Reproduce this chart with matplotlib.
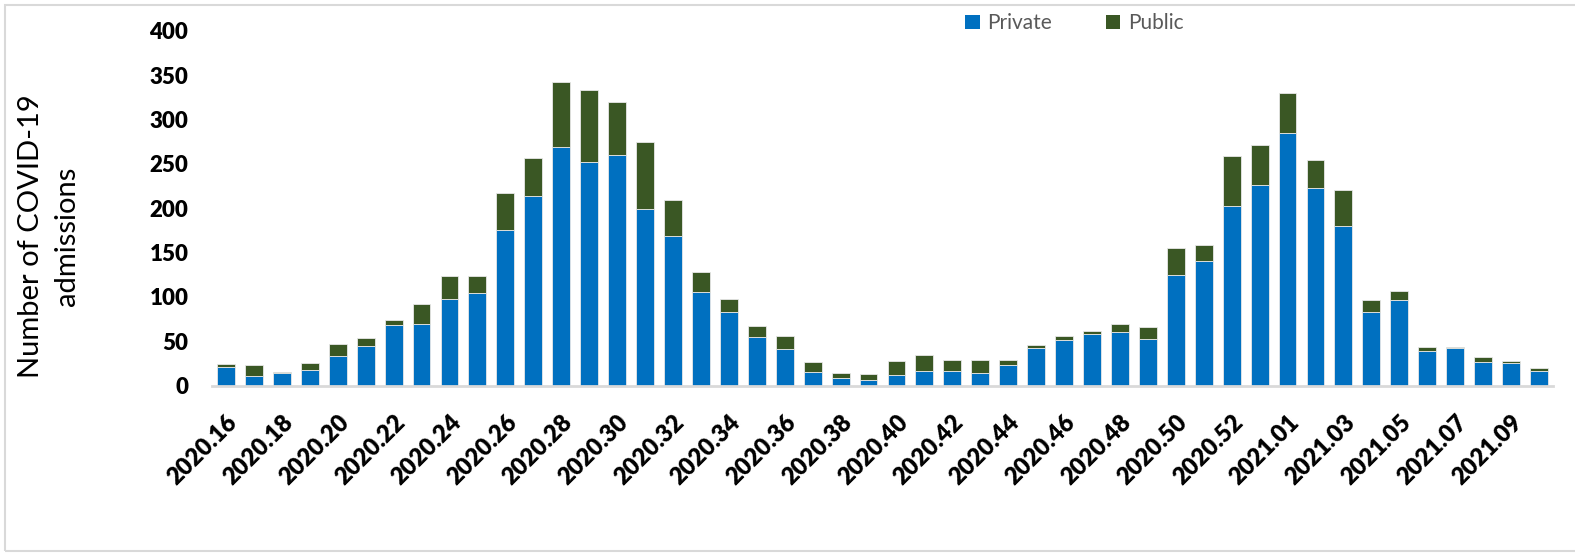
import numpy as np
import matplotlib
matplotlib.use("Agg")
import matplotlib.pyplot as plt
from matplotlib.patches import Patch, Rectangle

# Weekly COVID-19 admissions, ISO week labels
weeks = [f"2020.{w:02d}" for w in range(16, 54)] + [f"2021.{w:02d}" for w in range(1, 11)]
private = [21, 11, 14, 18, 34, 45, 68, 70, 98, 104, 176, 214, 269, 252, 260, 199,
           169, 106, 83, 55, 41, 16, 9, 6, 12, 17, 17, 14, 23, 43, 51, 58,
           61, 53, 125, 140, 203, 226, 285, 223, 180, 83, 97, 39, 42, 27, 26, 17]
public = [4, 12, 2, 8, 13, 9, 6, 22, 26, 20, 41, 43, 73, 81, 60, 76,
          40, 22, 15, 12, 15, 11, 5, 7, 16, 18, 12, 15, 6, 3, 5, 4,
          9, 13, 30, 18, 56, 45, 45, 31, 40, 14, 10, 5, 2, 5, 2, 3]
yticks = [0, 50, 100, 150, 200, 250, 300, 350, 400]

blue = "#0070C0"
green = "#3A5724"
font = "Lato"

fig = plt.figure(figsize=(15.75, 5.53), dpi=100)
ax = fig.add_axes([0.1346, 0.3025, 0.8514, 0.642])

x = np.arange(len(weeks))
ax.bar(x, private, width=0.64, color=blue, edgecolor="#e8e8e8", linewidth=0.6)
ax.bar(x, public, width=0.64, bottom=private, color=green, edgecolor="#e8e8e8", linewidth=0.6)

ax.set_xlim(-0.5, len(weeks) - 0.5)
ax.set_ylim(0, 400)
ax.set_yticks(yticks)
ax.set_yticklabels([str(v) for v in yticks], fontsize=16, fontweight="heavy", family=font)
ax.set_xticks(x[::2])
ax.set_xticklabels(weeks[::2], rotation=45, ha="right", rotation_mode="anchor",
                   fontsize=17, fontweight="heavy", family=font)
ax.tick_params(axis="y", length=0, pad=17)
ax.tick_params(axis="x", length=0, pad=18)

for side in ["top", "right", "left"]:
    ax.spines[side].set_visible(False)
ax.spines["bottom"].set_color("#d9d9d9")
ax.spines["bottom"].set_linewidth(2)

fig.text(0.031, 0.573, "Number of COVID-19\nadmissions", rotation=90, ha="center", va="center",
         fontsize=21, family=font, linespacing=1.5, multialignment="center")

handles = [Patch(facecolor=blue, label="Private"), Patch(facecolor=green, label="Public")]
fig.legend(handles=handles, loc="center", bbox_to_anchor=(0.682, 0.958), ncol=2, frameon=False,
           handlelength=0.7, handleheight=0.7, handletextpad=0.35, columnspacing=2.6,
           prop={"family": font, "size": 15}, labelcolor="#595959")

# light outer frame
fig.patches.append(Rectangle((0.0032, 0.003), 1.2, 0.988, transform=fig.transFigure,
                             fill=False, edgecolor="#d9d9d9", linewidth=1.5))

fig.savefig("out.png", dpi=100, facecolor="white")
